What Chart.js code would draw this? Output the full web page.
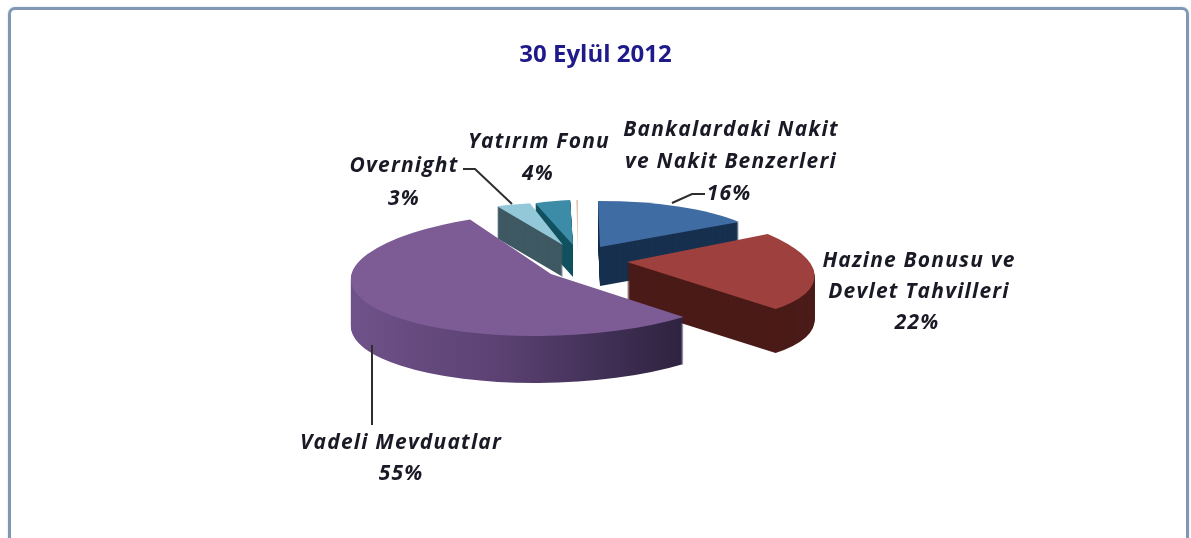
<!DOCTYPE html>
<html lang="tr">
<head>
<meta charset="utf-8">
<title>30 Eylül 2012</title>
<script src="https://cdn.jsdelivr.net/npm/chart.js@4"></script>
<style>
html,body{margin:0;padding:0;background:#fff;overflow:hidden;width:1191px;height:538px}
#frame{position:absolute;left:8px;top:7px;width:1175px;height:600px;border:3px solid #8198b5;border-radius:7px;box-shadow:0 0 1.5px #a9b9cd}
#wrap{position:absolute;left:0;top:0;width:1191px;height:538px;filter:blur(.45px)}
</style>
</head>
<body>
<div id="frame"></div>
<div id="wrap"><canvas id="c" width="1191" height="538"></canvas></div>
<script>
const chartTitle = '30 Eylül 2012';
const categories = ['Bankalardaki Nakit ve Nakit Benzerleri','Hazine Bonusu ve Devlet Tahvilleri','Vadeli Mevduatlar','Overnight','Yatırım Fonu',''];
const values = [16,22,55,3,4,0.2];
const topColors = ['#3f6ca3','#9e403d','#7d5c96','#93c8d8','#3c8ca8','#e3c4b0'];
const sideColors = ['#17304f','#4a1b18','#5a4070','#3f5963','#10505f','#e3c4b0'];

// 3D look: for each slice, [apexX, apexY, a, c, b, d, depth] projects the library's arc onto the page
const slicePoses = [
  [600,247,166,2,-0.4,46,39],
  [627,262,185.4,29,4.9,60,44],
  [551,274,200,-7,-3,62,47],
  [563,245,181,-14.5,-1.2,43.6,32],
  [573,245,141,1,-6.4,45,32],
  [578,253,140,0,0,53,0]
];
const drawOrder = [5,0,4,3,1,2];

// label text lines with their centre x and baseline y
const labelLayout = [
  {lines:['Bankalardaki Nakit','ve Nakit Benzerleri'],x:731,y:136,dy:32,pctX:729},
  {lines:['Hazine Bonusu ve','Devlet Tahvilleri'],x:919,y:267,dy:31,pctX:917},
  {lines:['Vadeli Mevduatlar'],x:401,y:449,dy:31,pctX:401},
  {lines:['Overnight'],x:404,y:172,dy:33,pctX:404},
  {lines:['Yatırım Fonu'],x:539,y:148,dy:32,pctX:538}
];
const leaders = [
  [[672,203],[692,194],[705,194]],
  [[372,345],[372,425]],
  [[463,169],[475,169],[512,204]]
];

function drawArc(ctx, arc, fill){
  const flat = Object.create(arc, {options:{value:{
    backgroundColor:fill,borderColor:'transparent',borderWidth:0,borderAlign:'center',
    offset:0,spacing:0,circular:true,borderRadius:0,borderDash:[],borderDashOffset:0,borderJoinStyle:'round'
  }}});
  arc.draw.call(flat, ctx);
}

const pie3d = {
  id:'pie3d',
  beforeDatasetDraw(chart,args){
    const ctx = chart.ctx;
    const arcs = chart.getDatasetMeta(args.index).data;
    drawOrder.forEach(i=>{
      const arc = arcs[i], p = slicePoses[i], R = arc.outerRadius;
      const place = dy=>{
        ctx.translate(p[0],p[1]+dy);
        ctx.transform(p[2]/R,p[4]/R,p[3]/R,p[5]/R,0,0);
        ctx.translate(-arc.x,-arc.y);
      };
      let side = sideColors[i];
      for(let k=p[6];k>=1;k--){
        ctx.save(); place(k);
        if(i===2){
          const g = ctx.createLinearGradient(arc.x-R,0,arc.x+R*0.68,0);
          g.addColorStop(0,'#6f5289');g.addColorStop(.45,'#5c4274');g.addColorStop(1,'#2e2340');
          side = g;
        }
        drawArc(ctx,arc,side);
        ctx.restore();
      }
      ctx.save(); place(0);
      drawArc(ctx,arc,topColors[i]);
      ctx.restore();
    });
    return false;
  },
  afterDraw(chart){
    const ctx = chart.ctx;
    ctx.save();
    ctx.strokeStyle='#2e2e2e';ctx.lineWidth=2;
    leaders.forEach(l=>{
      ctx.beginPath();
      l.forEach((pt,j)=>j?ctx.lineTo(pt[0],pt[1]):ctx.moveTo(pt[0],pt[1]));
      ctx.stroke();
    });
    ctx.fillStyle='#1a1a26';
    ctx.font='italic 700 21px "Open Sans", sans-serif';
    ctx.letterSpacing='1.2px';
    ctx.textAlign='center';ctx.textBaseline='alphabetic';
    labelLayout.forEach((l,i)=>{
      l.lines.forEach((t,j)=>ctx.fillText(t,l.x,l.y+j*l.dy));
      ctx.fillText(values[i]+'%',l.pctX,l.y+l.lines.length*l.dy);
    });
    ctx.restore();
  }
};

new Chart(document.getElementById('c'),{
  type:'pie',
  data:{labels:categories,datasets:[{data:values,backgroundColor:topColors,borderWidth:0}]},
  options:{
    responsive:false,animation:false,radius:100,
    layout:{padding:0},
    plugins:{
      legend:{display:false},tooltip:{enabled:false},
      title:{display:true,text:chartTitle,color:'#1f1a8c',font:{family:'"Open Sans", sans-serif',size:24,weight:'700'},padding:{top:41,bottom:10}}
    }
  },
  plugins:[pie3d]
});
</script>
</body>
</html>
